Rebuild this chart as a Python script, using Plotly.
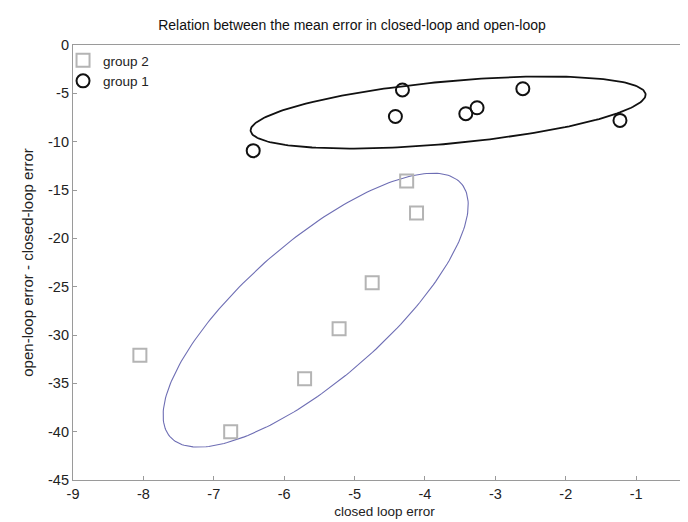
import numpy as np
import plotly.graph_objects as go

# ---- data ----
g1_x = [-4.32, -4.42, -6.44, -2.61, -3.26, -3.42, -1.23]
g1_y = [-4.65, -7.39, -10.93, -4.52, -6.49, -7.11, -7.80]
g2_x = [-8.05, -6.76, -5.71, -5.22, -4.75, -4.26, -4.12]
g2_y = [-32.1, -40.0, -34.52, -29.35, -24.59, -14.07, -17.38]
ellipse_scale = {"group 1": 1.72, "group 2": 1.52}   # coefficient of each group's covariance ellipse
x_ticks = [-9, -8, -7, -6, -5, -4, -3, -2, -1]
x_ticklabels = ["-9", "-8", "-7", "-6", "-5", "-4", "-3", "-2", "-1"]
y_ticks = [0, -5, -10, -15, -20, -25, -30, -35, -40, -45]
y_ticklabels = ["0", "-5", "-10", "-15", "-20", "-25", "-30", "-35", "-40", "-45"]

title = "Relation between the mean error in closed-loop and open-loop"
x_title = "closed loop error"
y_title = "open-loop error - closed-loop error"


def cov_ellipse(x, y, k, n=240):
    x = np.asarray(x, float)
    y = np.asarray(y, float)
    m = np.array([x.mean(), y.mean()])
    c = np.cov(x, y)
    vals, vecs = np.linalg.eigh(c)
    t = np.linspace(0, 2 * np.pi, n)
    circ = np.vstack([np.cos(t), np.sin(t)])
    pts = vecs @ np.diag(np.sqrt(vals)) @ circ * k
    return pts[0] + m[0], pts[1] + m[1]


FONT = "Liberation Sans, Arial, sans-serif"
fig = go.Figure()

e2x, e2y = cov_ellipse(g2_x, g2_y, ellipse_scale["group 2"])
e1x, e1y = cov_ellipse(g1_x, g1_y, ellipse_scale["group 1"])

fig.add_trace(go.Scatter(x=e2x, y=e2y, mode="lines", line=dict(color="#6e6eb4", width=1.1),
                         showlegend=False, hoverinfo="skip"))
fig.add_trace(go.Scatter(x=e1x, y=e1y, mode="lines", line=dict(color="#111111", width=1.8),
                         showlegend=False, hoverinfo="skip"))
fig.add_trace(go.Scatter(x=g2_x, y=g2_y, mode="markers", name="group 2",
                         marker=dict(symbol="square-open", size=13, color="#b4b4b4",
                                     line=dict(width=2, color="#b4b4b4"))))
fig.add_trace(go.Scatter(x=g1_x, y=g1_y, mode="markers", name="group 1",
                         marker=dict(symbol="circle-open", size=13, color="#111111",
                                     line=dict(width=2, color="#111111"))))

axis_common = dict(showgrid=False, zeroline=False, showline=True, linecolor="#9a9a9a", linewidth=1.2,
                   ticks="inside", ticklen=4, tickcolor="#9a9a9a", automargin=False,
                   tickfont=dict(family=FONT, size=14.5, color="#222222"))

fig.update_layout(
    width=688, height=522,
    margin=dict(l=65, r=0, t=37, b=50),
    paper_bgcolor="white", plot_bgcolor="white",
    title=dict(text=title, x=0.5, xanchor="center", y=0.967, yanchor="middle",
               font=dict(family=FONT, size=14, color="#111111")),
    xaxis=dict(range=[-9, -0.15], tickvals=x_ticks, ticktext=x_ticklabels, mirror=True,
               title=dict(text=x_title, standoff=6, font=dict(family=FONT, size=13.5, color="#222222")),
               **axis_common),
    yaxis=dict(range=[-45, 0], tickvals=y_ticks, ticktext=y_ticklabels, mirror=False,
               title=dict(text=y_title, standoff=10, font=dict(family=FONT, size=15, color="#222222")),
               **axis_common),
    legend=dict(x=-0.016, y=1.0, xanchor="left", yanchor="top", bgcolor="rgba(0,0,0,0)",
                font=dict(family=FONT, size=13.5, color="#222222"), tracegroupgap=0,
                itemwidth=30),
    showlegend=True,
)

fig.write_html("out.html")
